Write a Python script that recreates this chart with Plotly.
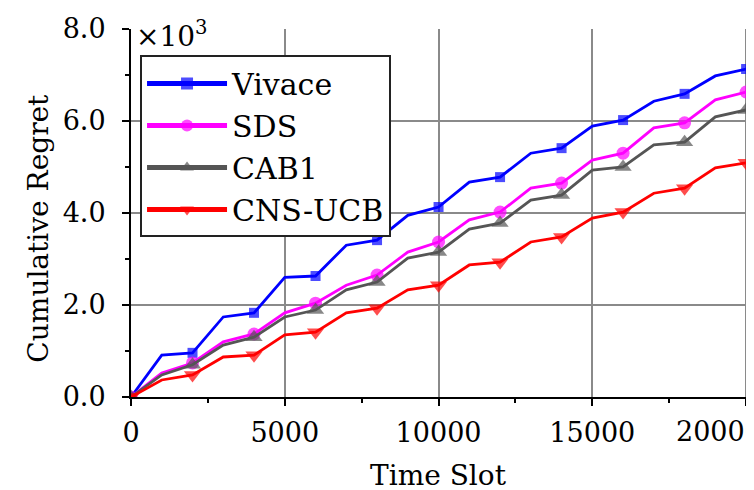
import plotly.graph_objects as go

time_slot = list(range(0, 20001, 1000))
vivace = [0.0, 0.91, 0.96, 1.74, 1.83, 2.60, 2.63, 3.30, 3.41, 3.95, 4.13,
          4.67, 4.78, 5.30, 5.41, 5.89, 6.02, 6.43, 6.59, 6.98, 7.13]
sds = [0.0, 0.52, 0.74, 1.20, 1.37, 1.83, 2.04, 2.43, 2.65, 3.15, 3.37,
       3.85, 4.02, 4.54, 4.65, 5.15, 5.30, 5.85, 5.96, 6.46, 6.63]
cab1 = [0.0, 0.48, 0.70, 1.13, 1.30, 1.74, 1.89, 2.33, 2.50, 3.02, 3.15,
        3.65, 3.78, 4.28, 4.39, 4.93, 5.00, 5.48, 5.54, 6.09, 6.24]
cns_ucb = [0.0, 0.37, 0.48, 0.87, 0.91, 1.35, 1.41, 1.83, 1.93, 2.33, 2.43,
           2.87, 2.93, 3.37, 3.48, 3.89, 4.02, 4.43, 4.54, 4.98, 5.09]
series_names = ["Vivace", "SDS", "CAB1", "CNS-UCB"]
x_ticks = [0, 5000, 10000, 15000, 20000]
x_ticktext = ["0", "5000", "10000", "15000", ""]   # last label drawn shifted (as in source)
last_x_label = "20000"
y_ticks = [0, 2, 4, 6, 8]

FONT = "DejaVu Serif"
styles = [
    ("#0000FF", "square", 10),
    ("#FF00FF", "circle", 13),
    ("#555555", "triangle-up", 15),
    ("#FF0000", "triangle-down", 15),
]

fig = go.Figure()
for name, ys, (col, sym, ms) in zip(series_names, [vivace, sds, cab1, cns_ucb], styles):
    sizes = [ms if i % 2 == 0 else 0 for i in range(len(time_slot))]
    fig.add_trace(go.Scatter(
        x=time_slot, y=ys, name=name, mode="lines+markers", legendgroup=name,
        line=dict(color=col, width=2.8),
        marker=dict(symbol=sym, size=sizes, color=col, line=dict(width=0)),
    ))

fig.update_layout(
    width=746, height=482,
    margin=dict(l=123, r=0, t=21, b=93),
    paper_bgcolor="white", plot_bgcolor="white",
    font=dict(family=FONT, size=28, color="black"),
    showlegend=True,
    legend=dict(
        x=0.0145, y=0.928, xanchor="left", yanchor="top",
        bgcolor="white", bordercolor="#222222", borderwidth=2,
        font=dict(family=FONT, size=30, color="black"),
        itemsizing="constant", itemwidth=80, tracegroupgap=0,
    ),
    xaxis=dict(
        range=[0, 20257], tickvals=x_ticks, ticktext=x_ticktext,
        showgrid=True, gridcolor="#8a8a8a", gridwidth=1.6,
        showline=True, linecolor="black", linewidth=2,
        ticks="outside", ticklen=7, tickwidth=2, tickcolor="black",
        minor=dict(tickvals=[2500, 7500, 12500, 17500], ticks="outside", ticklen=4,
                   tickwidth=2, tickcolor="black", showgrid=False),
        zeroline=False, ticklabelstandoff=4, ticklabeloverflow="allow",
        automargin=False,
        tickfont=dict(family=FONT, size=27),
    ),
    yaxis=dict(
        range=[0, 8], tickvals=y_ticks, tickformat=".1f",
        showgrid=True, gridcolor="#8a8a8a", gridwidth=1.6,
        showline=True, linecolor="black", linewidth=2,
        ticks="outside", ticklen=7, tickwidth=2, tickcolor="black",
        minor=dict(tickvals=[1, 3, 5, 7], ticks="outside", ticklen=4,
                   tickwidth=2, tickcolor="black", showgrid=False),
        zeroline=False, ticklabelstandoff=11, automargin=False,
        tickfont=dict(family=FONT, size=27),
    ),
    annotations=[
        dict(text=last_x_label, xref="paper", yref="paper", x=0.872, y=-0.094,
             xanchor="left", yanchor="middle", showarrow=False,
             font=dict(family=FONT, size=27)),
        dict(text="Time Slot", xref="paper", yref="paper", x=0.494, y=-0.213,
             xanchor="center", yanchor="middle", showarrow=False,
             font=dict(family=FONT, size=28)),
        dict(text="Cumulative Regret", xref="paper", yref="paper", x=-0.149, y=0.458,
             xanchor="center", yanchor="middle", textangle=-90, showarrow=False,
             font=dict(family=FONT, size=28)),
        dict(text="×10<sup>3</sup>", xref="paper", yref="paper", x=0.005, y=0.985,
             xanchor="left", yanchor="middle", showarrow=False,
             font=dict(family=FONT, size=28)),
    ],
)

fig.write_html("out.html")
